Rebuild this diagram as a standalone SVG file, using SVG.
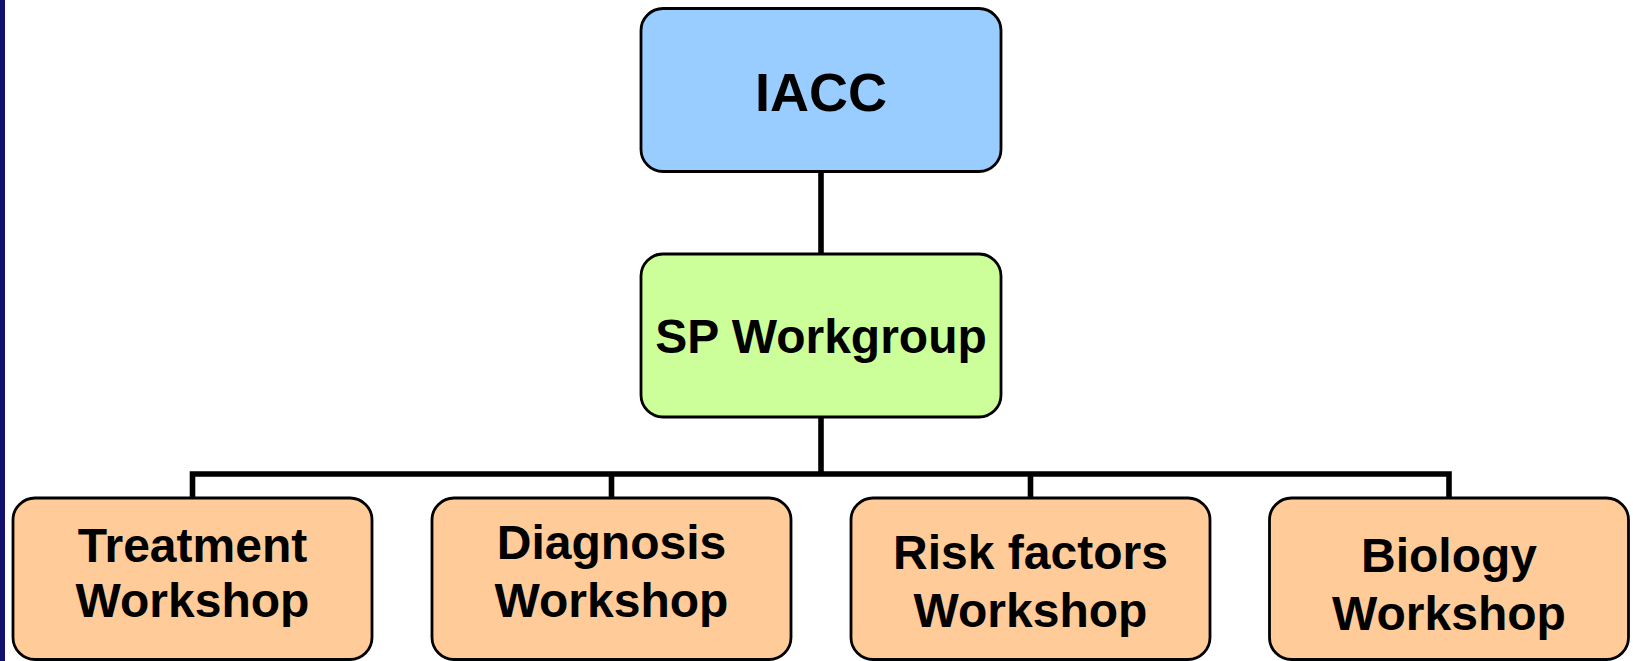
<svg xmlns="http://www.w3.org/2000/svg" width="1633" height="661" viewBox="0 0 1633 661">
<style>
.box{stroke:#000;stroke-width:2.8}
.top{fill:#99ccff}
.mid{fill:#ccff99}
.ws{fill:#ffcc99}
text{font-family:"Liberation Sans",Arial,sans-serif;font-weight:bold;fill:#000;text-anchor:middle}
.t48{font-size:48px}
.t54{font-size:54px}
.conn{fill:none;stroke:#000;stroke-width:5.6;stroke-linecap:butt}
</style>
<rect x="0" y="0" width="1633" height="661" fill="#ffffff"/>
<rect x="0" y="0" width="5" height="661" fill="#14106e"/>
<g id="connectors">
<path class="conn" d="M821 172 V254"/>
<path class="conn" d="M821 417 V474"/>
<path class="conn" d="M192.5 498 V474 H1449 V498"/>
<path class="conn" d="M611.5 474 V498"/>
<path class="conn" d="M1030.5 474 V498"/>
</g>
<g id="iacc">
<rect class="box top" x="641" y="8.5" width="360" height="163" rx="22"/>
<text class="t54" x="821" y="111">IACC</text>
</g>
<g id="sp-workgroup">
<rect class="box mid" x="641" y="254" width="360" height="163" rx="22"/>
<text class="t48" x="821" y="353">SP Workgroup</text>
</g>
<g id="treatment">
<rect class="box ws" x="13" y="498" width="359" height="161.5" rx="22"/>
<text class="t48" x="192.5" y="561.5">Treatment</text>
<text class="t48" x="192.5" y="616.5">Workshop</text>
</g>
<g id="diagnosis">
<rect class="box ws" x="432" y="498" width="359" height="161.5" rx="22"/>
<text class="t48" x="611.5" y="558.5">Diagnosis</text>
<text class="t48" x="611.5" y="616.5">Workshop</text>
</g>
<g id="risk-factors">
<rect class="box ws" x="851" y="498" width="359" height="161.5" rx="22"/>
<text class="t48" x="1030.5" y="568.5">Risk factors</text>
<text class="t48" x="1030.5" y="626.5">Workshop</text>
</g>
<g id="biology">
<rect class="box ws" x="1269.5" y="498" width="359" height="161.5" rx="22"/>
<text class="t48" x="1449" y="572">Biology</text>
<text class="t48" x="1449" y="630">Workshop</text>
</g>
</svg>
